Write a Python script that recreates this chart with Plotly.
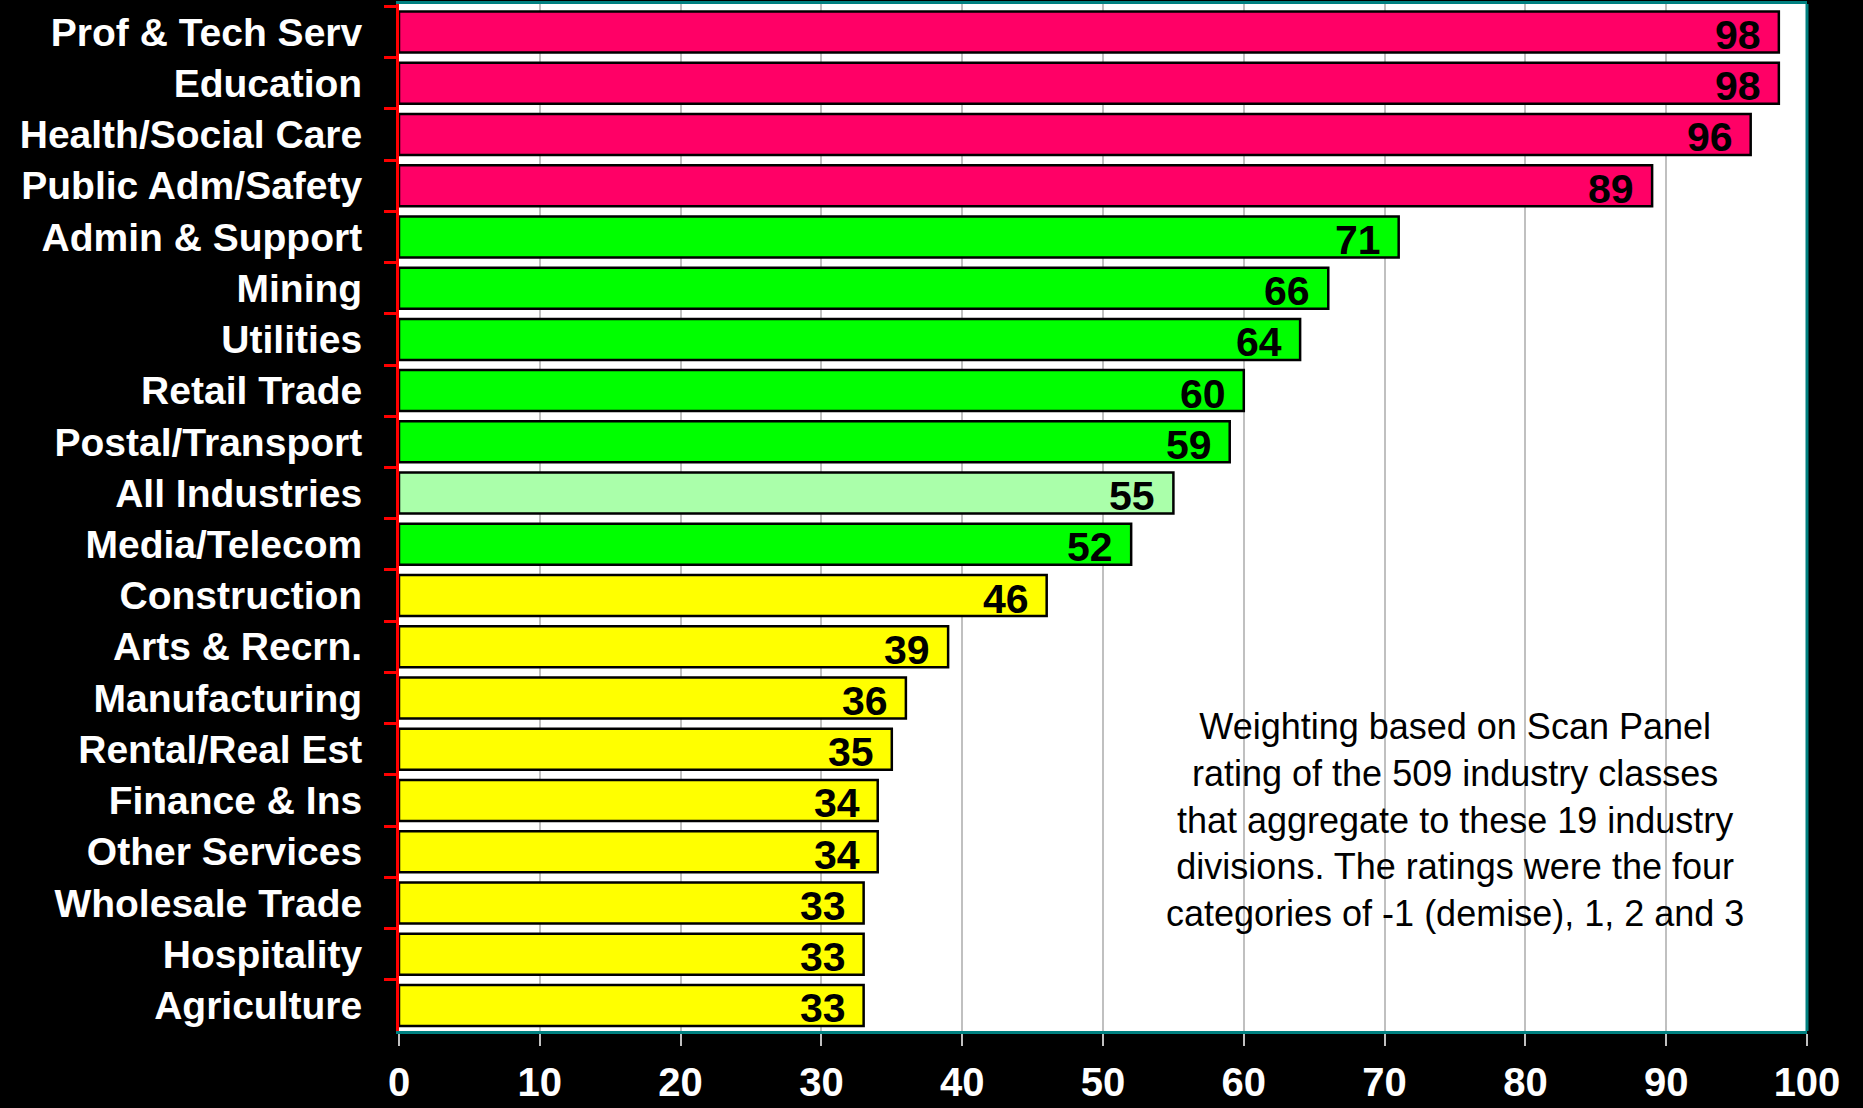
import plotly.graph_objects as go

# Industry divisions, top to bottom
industries = [
    "Prof & Tech Serv", "Education", "Health/Social Care", "Public Adm/Safety",
    "Admin & Support", "Mining", "Utilities", "Retail Trade", "Postal/Transport",
    "All Industries", "Media/Telecom", "Construction", "Arts & Recrn.",
    "Manufacturing", "Rental/Real Est", "Finance & Ins", "Other Services",
    "Wholesale Trade", "Hospitality", "Agriculture",
]
scores = [98, 98, 96, 89, 71, 66, 64, 60, 59, 55, 52, 46, 39, 36, 35, 34, 34, 33, 33, 33]
bar_colors = (["#FF0066"] * 4 + ["#00FF00"] * 5 + ["#AAFFAA"] + ["#00FF00"]
              + ["#FFFF00"] * 9)
x_ticks = [0, 10, 20, 30, 40, 50, 60, 70, 80, 90, 100]

note = ("Weighting based on Scan Panel<br>rating of the 509 industry classes<br>"
        "that aggregate to these 19 industry<br>divisions. The ratings were the four<br>"
        "categories of -1 (demise), 1, 2 and 3")

FONT = "Liberation Sans, Arial, sans-serif"
TEAL = "#008080"

fig = go.Figure(go.Bar(
    x=scores, y=industries, orientation="h",
    marker=dict(color=bar_colors, line=dict(color="black", width=2.5)),
    width=0.8, hoverinfo="skip",
))

# value labels sitting just inside the end of each bar
for name, v in zip(industries, scores):
    fig.add_annotation(
        x=v, y=name, text=str(v), showarrow=False, xanchor="right", yanchor="middle",
        xshift=-16, yshift=-3,
        font=dict(family=FONT, size=41, color="black", weight="bold"),
    )

fig.add_annotation(
    x=75, y=0.205, xref="x", yref="paper", text=note, showarrow=False,
    align="center", xanchor="center", yanchor="middle",
    font=dict(family=FONT, size=36, color="black"),
)

# right-hand frame edge
fig.add_shape(type="line", xref="paper", yref="paper", x0=1, x1=1, y0=0, y1=1,
              line=dict(color=TEAL, width=3))

fig.update_layout(
    width=1863, height=1108,
    margin=dict(l=399, r=56, t=4, b=77, autoexpand=False),
    paper_bgcolor="black", plot_bgcolor="white",
    showlegend=False,
    xaxis=dict(
        range=[0, 100], tickvals=x_ticks, showgrid=True, gridcolor="#C0C0C0", gridwidth=2,
        zeroline=False, showline=True, linecolor=TEAL, linewidth=3, mirror=True,
        ticks="outside", ticklen=12, tickcolor="#C0C0C0", tickwidth=2,
        ticklabelstandoff=2, automargin=False,
        tickfont=dict(family=FONT, size=40, color="white", weight="bold"),
    ),
    yaxis=dict(
        categoryorder="array", categoryarray=industries, autorange="reversed",
        showgrid=False, zeroline=False, showline=True, linecolor="red", linewidth=3,
        ticks="outside", tickson="boundaries", ticklen=12, tickcolor="red", tickwidth=3,
        ticklabelstandoff=26, automargin=False,
        tickfont=dict(family=FONT, size=39, color="white", weight="bold"),
    ),
)

fig.write_html("out.html")
